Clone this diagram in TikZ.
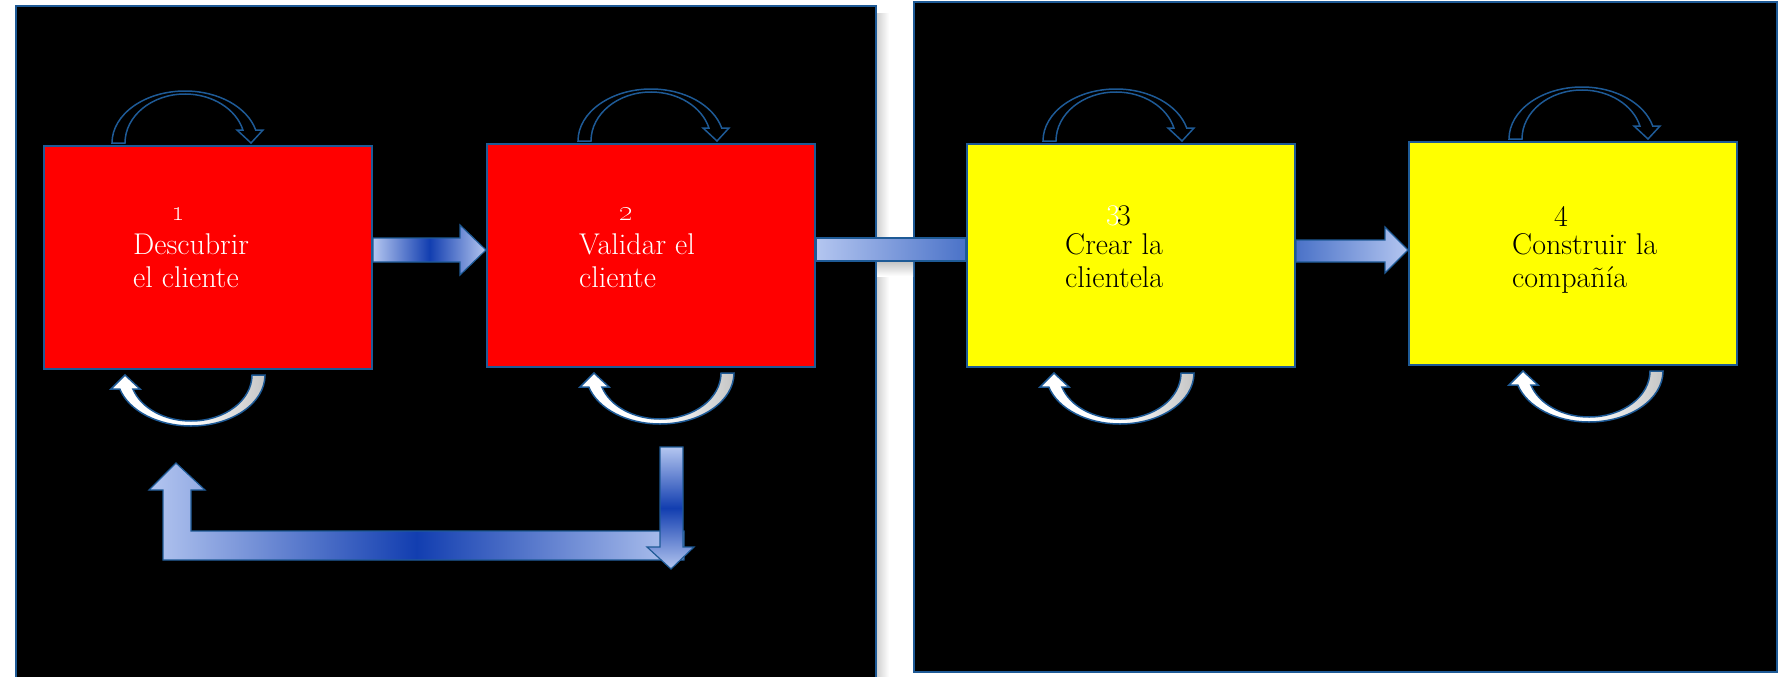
\documentclass[tikz,border=0pt]{standalone}
\usetikzlibrary{calc}
\definecolor{edgeblue}{RGB}{30,90,150}
\definecolor{barlight}{RGB}{180,198,240}
\definecolor{bardark}{RGB}{18,62,176}
\definecolor{barmid}{RGB}{74,114,200}
\definecolor{stagered}{RGB}{255,0,0}
\definecolor{stageyellow}{RGB}{255,255,0}

\begin{document}
\begin{tikzpicture}[x=1pt,y=-1pt,
  panel/.style={fill=black,draw=edgeblue,line width=2pt},
  stage/.style={draw=edgeblue,line width=2pt,minimum width=328pt,
    minimum height=223pt,anchor=north west,inner sep=0pt},
  bigtext/.style={anchor=base west,inner sep=0pt,font=\fontsize{30}{33}\selectfont},
  blockbar/.style={draw=edgeblue,line width=1.2pt},
  loopout/.style={fill=black,draw=edgeblue,line width=1.5pt},
  loopback/.style={draw=edgeblue,line width=1.5pt,left color=white,
    right color=gray!45,middle color=white}]
  \useasboundingbox (0,0) rectangle (1780,677);
  \fill[white] (0,0) rectangle (1780,677);

  % the two panels
  \shade[left color=gray!35,right color=white] (877,14) rectangle (889,677);
  \draw[panel] (16,6) rectangle (876,690);
  \draw[panel] (914,2) rectangle (1777,672);

  % the four stages
  \node[stage,fill=stagered] (b1) at (43,145) {};
  \node[stage,fill=stagered] (b2) at (486,143) {};
  \node[stage,fill=stageyellow] (b3) at (966,143) {};
  \node[stage,fill=stageyellow] (b4) at (1408,141) {};

  \node[bigtext,text=white] (n1) at (171,220) {\oldstylenums{1}};
  \node[bigtext,text=white] (n2) at (619,220) {\oldstylenums{2}};
  \node[bigtext,text=white] (n3a) at (1106,225) {3};
  \node[bigtext,text=black] (n3b) at (1117,225) {3};
  \node[bigtext,text=black] (n4) at (1554,226) {4};
  \foreach \n/\x/\c/\la/\lb in {1/133/white/Descubrir/el cliente,
      2/579/white/Validar el/cliente, 3/1065/black/Crear la/clientela,
      4/1512/black/Construir la/compañía} {
    \node[bigtext,text=\c] (t\n a) at (\x,254) {\la};
    \node[bigtext,text=\c] (t\n b) at (\x,287) {\lb};
  }

  % block arrows between the stages
  \path[blockbar,left color=barlight,right color=barlight,middle color=bardark]
    (b1.east |- 0,238) -- (460,238) -- (460,225) -- (b2.west |- 0,250)
    -- (460,275) -- (460,262) -- (b1.east |- 0,262) -- cycle;
  \shade[top color=gray!45,bottom color=white] (877,262) rectangle (913,276);
  \path[blockbar,left color=barlight,right color=barmid]
    (b2.east |- 0,238) rectangle (b3.west |- 0,261);
  \path[blockbar,left color=barmid,right color=barlight]
    (b3.east |- 0,240) -- (1385,240) -- (1385,227) -- (b4.west |- 0,250)
    -- (1385,273) -- (1385,262) -- (b3.east |- 0,262) -- cycle;

  % way back from stage 2 to stage 1
  \path[blockbar,left color=barlight,right color=barlight,middle color=bardark]
    (163,560) -- (163,490) -- (149,490) -- (176,463) -- (205,490)
    -- (191,490) -- (191,531) -- (684,531) -- (684,560) -- cycle;
  \path[blockbar,top color=barlight,bottom color=barlight,middle color=bardark]
    (660,447) -- (683,447) -- (683,547) -- (694,547) -- (671,569)
    -- (647,547) -- (660,547) -- cycle;

  % loops over and under every stage
  \foreach \b/\t/\s in {b1/142/148,b2/165/174,b3/150/154,b4/174/181} {
    \begin{scope}[shift={($(\b.north west)+(\t,-2)$)}]
      \path[loopout] (-73,0) .. controls (-73,-28.7) and (-40.3,-52) .. (0,-52)
        .. controls (33.3,-52) and (62.3,-36) .. (70.7,-13)
        -- (78,-13) -- (66,0) -- (52,-13) -- (57.9,-13)
        .. controls (51.2,-33.9) and (27.4,-49) .. (0,-49)
        .. controls (-33.1,-49) and (-60,-27.1) .. (-60,0) -- cycle;
    \end{scope}
    \begin{scope}[shift={($(\b.south west)+(\s,5)$)}]
      \path[loopback] (74,0) .. controls (74,28.2) and (40.9,51) .. (0,51)
        .. controls (-33,51) and (-62.1,35.9) .. (-71.2,14)
        -- (-80,14) -- (-66,0) -- (-51,14) -- (-58.1,14)
        .. controls (-50,33.1) and (-26.6,46) .. (0,46)
        .. controls (33.7,46) and (61,25.4) .. (61,0) -- cycle;
    \end{scope}
  }
\end{tikzpicture}
\end{document}
